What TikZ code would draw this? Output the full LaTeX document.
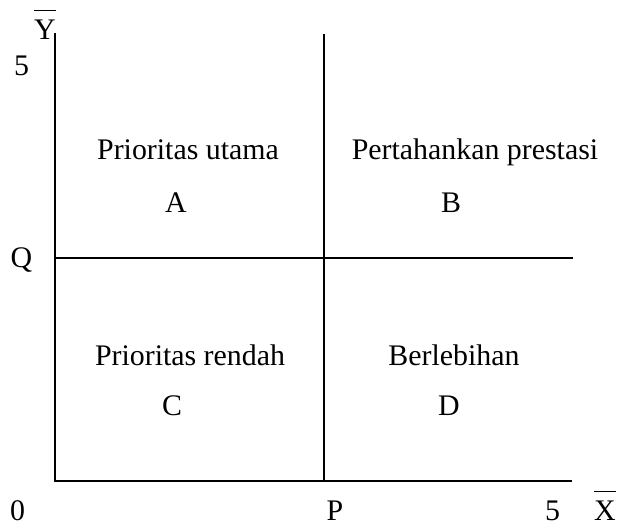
\documentclass[tikz,border=0pt]{standalone}
\usepackage{fontspec}
\setmainfont{Liberation Serif}
\usepackage{tikz}
\newcommand{\barlabel}[1]{$\overline{\rule{0pt}{0.9em}\mbox{#1}}$}

\begin{document}
\begin{tikzpicture}[scale=1,
        axisline/.style={line width=1.1pt},
        lbl/.style={inner sep=0pt,anchor=base},
        every node/.style={font=\fontsize{17}{20}\selectfont}]
        \useasboundingbox (0,0) rectangle (12.46,10.56);
        \coordinate (O) at (1.10,0.94);
        \coordinate (Ytop) at (1.10,9.90);
        \coordinate (Xend) at (11.44,0.94);
        \coordinate (Pbot) at (6.48,0.94);
        \coordinate (Ptop) at (6.48,9.88);
        \coordinate (Qleft) at (1.10,5.40);
        \coordinate (Qright) at (11.46,5.40);
        \draw[axisline] (Ytop) -- (O) -- (Xend);
        \draw[axisline] (Pbot) -- (Ptop);
        \draw[axisline] (Qleft) -- (Qright);
        \node[lbl] (lblY) at (0.90,9.76) {\barlabel{Y}};
        \node[lbl] (lblYfive) at (0.43,9.04) {5};
        \node[lbl] (lblQ) at (0.43,5.20) {Q};
        \node[lbl] (lblO) at (0.35,0.14) {0};
        \node[lbl] (lblP) at (6.70,0.14) {P};
        \node[lbl] (lblXfive) at (11.05,0.14) {5};
        \node[lbl] (lblX) at (12.10,0.14) {\barlabel{X}};
        \node[lbl] (txtA) at (3.76,7.36) {Prioritas utama};
        \node[lbl] (letA) at (3.52,6.30) {A};
        \node[lbl] (txtB) at (9.50,7.36) {Pertahankan prestasi};
        \node[lbl] (letB) at (9.02,6.30) {B};
        \node[lbl] (txtC) at (3.80,3.24) {Prioritas rendah};
        \node[lbl] (letC) at (3.44,2.24) {C};
        \node[lbl] (txtD) at (9.08,3.24) {Berlebihan};
        \node[lbl] (letD) at (8.98,2.24) {D};
    \end{tikzpicture}
\end{document}
